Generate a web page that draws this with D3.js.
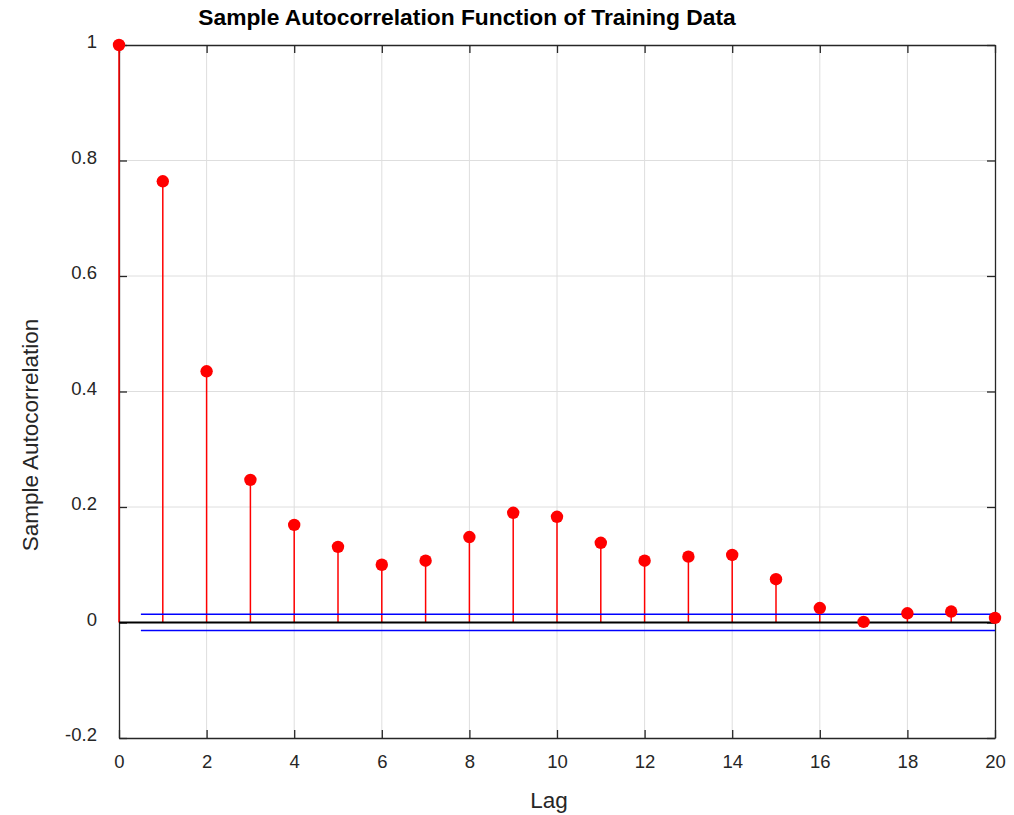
<!DOCTYPE html>
<html>
<head>
<meta charset="utf-8">
<script src="https://cdn.jsdelivr.net/npm/d3@7"></script>
<style>
  html, body { margin: 0; padding: 0; background: #fff; }
  svg { display: block; font-family: "Liberation Sans", Arial, sans-serif; }
</style>
</head>
<body>
<svg id="chart" width="1014" height="815"></svg>
<script>
// Sample autocorrelation of the training series, lags 0..20
const lags = d3.range(0, 21);
const acf = [1.000, 0.764, 0.435, 0.247, 0.169, 0.131, 0.100, 0.107, 0.148, 0.190, 0.183,
             0.138, 0.107, 0.114, 0.117, 0.075, 0.025, 0.001, 0.016, 0.019, 0.008];
const confBound = [0.0143, -0.0140];   // approximate 95% confidence bounds
const boundStart = 0.5;
const xTicks = [0, 2, 4, 6, 8, 10, 12, 14, 16, 18, 20];
const yTicks = [-0.2, 0, 0.2, 0.4, 0.6, 0.8, 1];
const yTickLabels = ["-0.2", "0", "0.2", "0.4", "0.6", "0.8", "1"];

const svg = d3.select("#chart");
const plotL = 119, plotR = 995, plotT = 45, plotB = 738;

const x = d3.scaleLinear().domain([0, 20]).range([plotL, plotR]);
const y = d3.scaleLinear().domain([-0.2, 1]).range([plotB, plotT]);

// grid
const grid = svg.append("g");
grid.selectAll(".gx").data(xTicks.slice(1, -1)).join("line")
  .attr("x1", d => x(d)).attr("x2", d => x(d))
  .attr("y1", plotT).attr("y2", plotB)
  .attr("stroke", "#dedede").attr("stroke-width", 1);
grid.selectAll(".gy").data(yTicks.slice(1, -1)).join("line")
  .attr("x1", plotL).attr("x2", plotR)
  .attr("y1", d => y(d)).attr("y2", d => y(d))
  .attr("stroke", "#dedede").attr("stroke-width", 1);

// axes with inward ticks on all four sides
const tickLen = 8;
const axBottom = svg.append("g").attr("transform", `translate(0,${plotB})`)
  .call(d3.axisBottom(x).tickValues(xTicks).tickSizeInner(-tickLen).tickSizeOuter(0).tickPadding(17).tickFormat(d3.format("d")));
const axTop = svg.append("g").attr("transform", `translate(0,${plotT})`)
  .call(d3.axisTop(x).tickValues(xTicks).tickSizeInner(-tickLen).tickSizeOuter(0).tickFormat(""));
const axLeft = svg.append("g").attr("transform", `translate(${plotL},0)`)
  .call(d3.axisLeft(y).tickValues(yTicks).tickSizeInner(-tickLen).tickSizeOuter(0).tickPadding(22)
    .tickFormat((d, i) => yTickLabels[i]));
const axRight = svg.append("g").attr("transform", `translate(${plotR},0)`)
  .call(d3.axisRight(y).tickValues(yTicks).tickSizeInner(-tickLen).tickSizeOuter(0).tickFormat(""));

[axBottom, axTop, axLeft, axRight].forEach(g => {
  g.select(".domain").attr("stroke", "#262626").attr("stroke-width", 1.3);
  g.selectAll(".tick line").attr("stroke", "#262626").attr("stroke-width", 1.3);
  g.selectAll(".tick text").attr("fill", "#262626").attr("font-size", 18.5)
    .attr("font-family", "Liberation Sans, Arial, sans-serif");
});
axLeft.selectAll(".tick text").attr("dy", "0.16em");

// stems
svg.append("g").selectAll("line").data(lags).join("line")
  .attr("x1", d => x(d)).attr("x2", d => x(d))
  .attr("y1", y(0)).attr("y2", (d, i) => y(acf[i]))
  .attr("stroke", "#ff0000").attr("stroke-width", 1.5);

// zero line
svg.append("line")
  .attr("x1", x(0)).attr("x2", x(20)).attr("y1", y(0)).attr("y2", y(0))
  .attr("stroke", "#000").attr("stroke-width", 2);

// confidence bounds
svg.append("g").selectAll("line").data(confBound).join("line")
  .attr("x1", x(boundStart)).attr("x2", x(20))
  .attr("y1", d => y(d)).attr("y2", d => y(d))
  .attr("stroke", "#0000ff").attr("stroke-width", 1.5);

// markers
svg.append("g").selectAll("circle").data(lags).join("circle")
  .attr("cx", d => x(d)).attr("cy", (d, i) => y(acf[i]))
  .attr("r", 6.2).attr("fill", "#ff0000");

// titles
svg.append("text").attr("x", 467).attr("y", 25).attr("text-anchor", "middle")
  .attr("font-size", 22.8).attr("font-weight", "bold").attr("fill", "#000")
  .text("Sample Autocorrelation Function of Training Data");
svg.append("text").attr("x", 549).attr("y", 808).attr("text-anchor", "middle")
  .attr("font-size", 22.5).attr("fill", "#262626").text("Lag");
svg.append("text").attr("transform", "translate(38,435) rotate(-90)").attr("text-anchor", "middle")
  .attr("font-size", 22.5).attr("fill", "#262626").text("Sample Autocorrelation");
</script>
</body>
</html>
